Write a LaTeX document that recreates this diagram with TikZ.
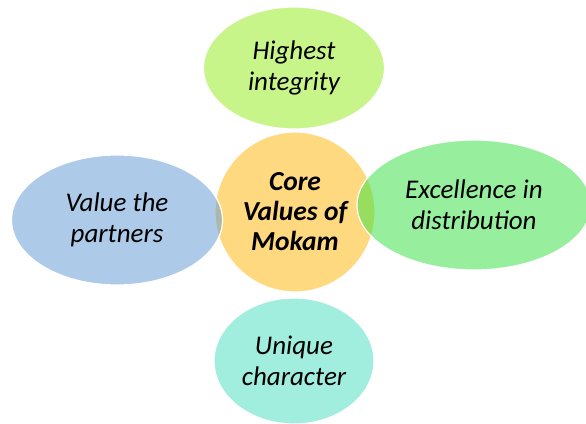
\documentclass[tikz,border=0pt]{standalone}
\usepackage{fontspec}
\setmainfont{Carlito}
\usetikzlibrary{shapes.geometric}
\definecolor{hubfill}{HTML}{FFD97F}
\definecolor{topfill}{HTML}{93ED15}
\definecolor{leftfill}{HTML}{5D97D5}
\definecolor{rightfill}{HTML}{31E13F}
\definecolor{botfill}{HTML}{45DDBF}
\tikzset{
  hub/.style={circle, fill=hubfill, draw=white, line width=1.2pt, inner sep=0pt,
    minimum size=160pt, align=center, font=\fontsize{27.5}{30}\selectfont\bfseries\itshape},
  petal/.style={ellipse, fill=#1, fill opacity=0.5, text opacity=1, draw=white,
    line width=1.2pt, inner sep=0pt, align=center,
    font=\fontsize{27}{31}\selectfont\itshape},
}
\begin{document}
\begin{tikzpicture}[x=1pt,y=-1pt]
\useasboundingbox (0,0) rectangle (586,423);
\fill[white] (0,0) rectangle (586,423);
% central value circle
\node[hub] (core) at (295,212) {Core\\Values of\\Mokam};
% surrounding values
\node[petal=topfill, minimum width=181pt, minimum height=122pt] (top) at (294,68) {Highest\\integrity};
\node[petal=leftfill, minimum width=211pt, minimum height=130pt] (left) at (117,220) {Value the\\partners};
\node[petal=rightfill, minimum width=234pt, minimum height=130pt] (right) at (474,205) {Excellence in\\distribution};
\node[petal=botfill, minimum width=160pt, minimum height=126pt] (bottom) at (294,361) {Unique\\character};
\end{tikzpicture}
\end{document}
